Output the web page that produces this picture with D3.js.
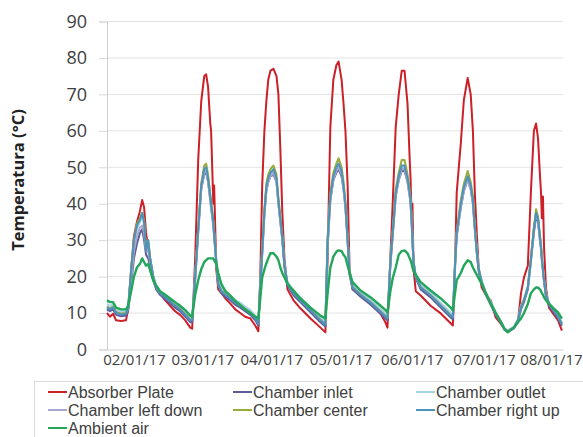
<!DOCTYPE html>
<html>
<head>
<meta charset="utf-8">
<script src="https://cdn.jsdelivr.net/npm/d3@7"></script>
<style>
body { margin: 0; background: #fff; }
text { font-family: "Open Sans", sans-serif; fill: #404040; }
</style>
</head>
<body>
<svg width="583" height="437"></svg>
<script>
// time since start of logging, hours
var hours = [0, 1.1, 2.2, 3.3, 5.1, 6.9, 7.7, 8.8, 9.8, 10.9, 12.0, 12.8, 13.5, 14.2, 15.0, 15.7, 16.8, 17.9, 19.3, 21.2, 23.0, 24.8, 26.6, 28.5, 30.3, 31.0,
  32.1, 33.2, 34.3, 35.4, 36.1, 36.8, 37.6, 37.9, 38.7, 39.0, 39.8, 40.5, 41.6, 43.1, 44.9, 46.7, 48.5, 50.3, 52.2, 54.0, 55.1,
  55.8, 56.5, 57.3, 58.0, 58.7, 59.5, 60.6, 61.7, 62.4, 63.1, 63.8, 64.6, 65.7, 67.9, 70.4, 74.1, 77.7, 79.5,
  80.3, 81.3, 82.4, 83.5, 84.3, 85.4, 86.1, 86.8, 87.6, 88.3, 89.4, 92.3, 96.0, 99.6, 101.4, 102.1,
  103.2, 104.0, 105.1, 106.2, 107.3, 108.3, 109.4, 110.2, 110.5, 110.9, 111.2, 111.6, 112.4, 114.2, 117.8, 121.5, 125.1, 125.9,
  126.6, 127.3, 128.8, 129.9, 131.3, 132.4, 133.2, 133.9, 134.6, 135.3, 136.4, 137.9, 139.7, 141.5, 143.4, 144.8, 145.9, 148.1, 149.6,
  150.7, 151.8, 153.2, 154.3, 155.4, 156.2, 156.9, 157.6, 158.0, 158.3, 158.7, 159.1, 159.8, 160.9, 162.3, 164.2, 165.6];

var absorberPlate = [10, 9, 9.8, 8, 7.8, 8, 11, 22, 31, 35, 38, 41, 39, 32, 28, 25, 20, 17, 15.4, 13.5, 12, 10.5, 9.5, 8, 6, 5.7,
  25, 52, 68, 75, 75.5, 72, 62, 60, 40, 45, 22, 16.5, 15.5, 14, 12.6, 11, 10, 9, 8.5, 6.5, 5,
  20, 45, 60, 68, 74, 76.5, 77, 75, 70, 55, 38, 25, 16.5, 13.5, 11.3, 8.5, 6, 4.7,
  25, 61, 74, 78, 79, 74, 67.5, 60, 45, 22, 16.5, 15, 12.5, 9.8, 7.4, 6,
  26, 40, 61, 70, 76.5, 76.5, 67.5, 52, 47, 36, 40, 22, 16, 14.8, 12, 9.9, 7.2, 6.6,
  20, 43, 56.6, 68.4, 74.5, 70, 60, 43, 32, 22.5, 17, 15, 13.5, 8.8, 7, 5.5, 5, 6, 7.5,
  15.4, 19.8, 23, 43, 60, 62, 58, 48, 43, 36, 42, 28, 17, 11.5, 10, 8, 5.2];

var chamberInlet = [11, 10.5, 11, 9.5, 9.1, 9.3, 10.5, 18, 25, 29, 32, 33, 30, 26, 25, 23, 19, 16.5, 15, 13.8, 12.7, 11.5, 10.5, 9, 7.5, 7.5,
  19, 32, 44, 48, 48.5, 46, 41, 39, 34, 31, 23.5, 17.5, 15.5, 14.5, 13.5, 12.3, 11.5, 10.5, 9.5, 8, 6.5,
  17, 26, 37, 43.5, 46, 47.5, 48, 46, 40, 35, 30, 22.5, 17.5, 14.9, 13, 10.2, 7.5, 6.3,
  28, 41, 46.5, 48.5, 49.5, 47.5, 44, 39, 29.5, 20.5, 16.5, 14.5, 12.3, 9.8, 8.5, 8,
  23.5, 31, 42, 46.5, 49, 49, 46, 42, 40, 35, 29.5, 23.5, 19.5, 16.5, 14.3, 11.5, 8.8, 8.3,
  21, 31, 39, 43.5, 46.5, 44, 40, 33, 26.5, 21.5, 18, 15, 12.2, 9.5, 7.2, 5.3, 4.8, 5.8, 7.6,
  11, 13, 16.5, 24, 32, 36.5, 35, 30, 27.5, 24.5, 21.5, 18.5, 14.5, 12, 10.5, 8.5, 6.5];

var chamberOutlet = [12.5, 12, 12.3, 10.8, 10.4, 10.6, 12, 21, 29, 33, 35, 36.5, 34, 28, 29, 25, 20.5, 17.5, 16, 14.8, 13.8, 12.7, 11.7, 10.2, 8.7, 8.6,
  20, 33, 44.5, 49, 49.5, 46.5, 41.5, 39.5, 35, 32, 24.5, 18.5, 16.8, 15.8, 14.8, 13.6, 12.8, 11.8, 10.8, 9.3, 7.8,
  18, 27, 37.5, 44, 46.5, 48, 49, 46.5, 40.5, 35.5, 31, 23.5, 18.6, 16.2, 14.3, 11.5, 8.8, 7.6,
  29.5, 41.5, 47, 49.5, 50.5, 48.5, 44.5, 39.5, 30.5, 21.5, 17.8, 15.8, 13.6, 11.1, 9.8, 9.3,
  24.5, 32, 42.5, 47, 50, 50, 46.5, 42.5, 40.5, 35.5, 30.5, 24.5, 20.5, 17.8, 15.6, 12.8, 10.1, 9.6,
  22, 32, 39.5, 44, 47, 44.5, 40.5, 33.5, 27.5, 22.5, 19, 15.8, 13.2, 10.3, 7.8, 5.8, 5.3, 6.3, 8.4,
  12, 14, 17.5, 25, 33.5, 37.5, 36, 31, 28.5, 25.5, 22.5, 19.5, 15.5, 13, 11.5, 9.5, 7.5];

var chamberLeftDown = [11.8, 11.3, 11.8, 10.3, 9.9, 10.1, 11, 19, 27, 31, 33.5, 34, 32, 27, 27, 24, 20, 17, 15.5, 14.4, 13.3, 12.2, 11.2, 9.7, 8.2, 8.1,
  19.5, 32.5, 44, 48.5, 49, 46, 41, 39, 34.5, 31.5, 24, 18, 16.2, 15.2, 14.2, 13, 12.2, 11.2, 10.2, 8.7, 7.2,
  17.5, 26.5, 37, 43.5, 46, 47.5, 48.5, 46, 40, 35, 30.5, 23, 18.2, 15.6, 13.7, 10.9, 8.2, 7,
  29, 41, 46.5, 49, 50, 48, 44, 39, 30, 21, 17.2, 15.2, 13, 10.5, 9.2, 8.7,
  24, 31.5, 42, 46.5, 49.5, 49.5, 46, 42, 40, 35, 30, 24, 20, 17.2, 15, 12.2, 9.5, 9,
  21.5, 31.5, 39, 43.5, 46.5, 44, 40, 33, 27, 22, 18.6, 15.5, 12.8, 10, 7.6, 5.6, 5.1, 6.1, 8.1,
  11.6, 13.6, 17, 24.5, 33, 37, 35.5, 30.5, 28, 25, 22, 19, 15, 12.6, 11.1, 9.1, 7.1];

var chamberCenter = [11.7, 11.2, 11.7, 10.2, 9.8, 10, 11.5, 22, 30, 34.5, 36, 37.5, 35.5, 27.5, 30, 25, 20, 17, 15.5, 14.4, 13.3, 12.1, 11.1, 9.6, 8.1, 8.1,
  20.5, 33.5, 45.5, 50.5, 51, 48, 42.5, 40.5, 35.5, 32.5, 24, 18, 16.1, 15.1, 14.1, 12.9, 12.1, 11.1, 10.1, 8.6, 7.1,
  18.5, 28, 38.5, 45.5, 48, 49.5, 50.5, 48, 41.5, 36.5, 31.5, 23, 18.1, 15.5, 13.6, 10.8, 8.1, 6.9,
  30.5, 43, 48.5, 51, 52.5, 50, 46, 40.5, 30.5, 21, 17.1, 15.1, 12.9, 10.4, 9.1, 8.6,
  25, 32.5, 44, 48.5, 52, 52, 48, 44, 41.5, 36.5, 30.5, 24, 20, 17.1, 14.9, 12.1, 9.4, 8.9,
  22.5, 32.5, 41, 45.5, 49, 46, 42, 34, 27.5, 22, 18.5, 15.4, 12.7, 10, 7.5, 5.5, 5, 6, 8,
  11.6, 13.6, 17.2, 25, 33.5, 38.5, 36.5, 31.5, 28.5, 25.5, 22, 19, 15, 12.5, 11, 9, 7];

var chamberRightUp = [11.5, 11, 11.5, 10, 9.6, 9.8, 11.5, 22, 30, 34, 35.5, 37.5, 35, 27, 30, 25, 20, 17, 15.5, 14.3, 13.2, 12, 11, 9.5, 8, 8,
  20, 33, 45, 49.5, 50, 47, 42, 40, 35, 32, 24, 18, 16, 15, 14, 12.8, 12, 11, 10, 8.5, 7,
  18, 27, 38, 44.5, 47, 48.5, 49.5, 47, 41, 36, 31, 23, 18, 15.4, 13.5, 10.7, 8, 6.8,
  30, 42, 47.5, 50, 51, 49, 45, 40, 30, 21, 17, 15, 12.8, 10.3, 9, 8.5,
  24.5, 32, 43, 47.5, 50.5, 50.5, 47, 43, 41, 36, 30, 24, 20, 17, 14.8, 12, 9.3, 8.8,
  22, 32, 40, 44.5, 47.5, 45, 41, 33.5, 27, 22, 18.5, 15.4, 12.6, 9.9, 7.5, 5.5, 5, 6, 8,
  11.5, 13.5, 17, 24.5, 33, 37.5, 36, 31, 28, 25, 22, 19, 15, 12.5, 11, 9, 7];

var ambientAir = [13.5, 13, 13, 11.5, 11, 11, 12, 16, 20, 22.5, 23.5, 25, 24, 23, 23.5, 21.7, 19, 17.6, 16, 15, 14, 13, 12, 10.8, 9.3, 9,
  15, 19, 22, 24, 24.5, 25, 25, 25, 25, 24.5, 23.5, 21, 18, 16, 14.8, 13.3, 12.2, 11, 10, 9, 8.5,
  14, 19.8, 22, 23.6, 25, 26.4, 26.4, 25.5, 24.5, 22.5, 21, 19.8, 18, 16.2, 14, 11.5, 9.3, 8.5,
  15.4, 22.5, 25.5, 26.8, 27.2, 27, 26, 25.3, 23, 21, 18.5, 16.2, 14.3, 12, 10.8, 10.2,
  16.2, 19.5, 22.5, 26, 27, 27.2, 26.4, 25, 24.5, 23.5, 22.5, 21.5, 20.5, 18.5, 16.2, 14, 11.5, 10.7,
  15, 19, 21, 23, 24.5, 24, 22.5, 21.5, 20.5, 19.5, 18, 15.4, 12.6, 10, 7.5, 5.5, 4.7, 6, 7.5,
  8.5, 10, 12.5, 15.4, 16.5, 17, 17, 16.5, 16, 15.5, 15, 14.3, 13.5, 12.5, 11.5, 10.2, 8.5];

var seriesNames = ["Absorber Plate", "Chamber inlet", "Chamber outlet", "Chamber left down", "Chamber center", "Chamber right up", "Ambient air"];
var seriesColors = ["#cc1f27", "#5f5c9e", "#a6d3e4", "#a9a7cc", "#9aab3c", "#4b93bd", "#22a65a"];
var seriesValues = [absorberPlate, chamberInlet, chamberOutlet, chamberLeftDown, chamberCenter, chamberRightUp, ambientAir];

var tickHours = [9.8, 34.7, 59.8, 85.0, 110.9, 137.2, 161.6];
var tickLabels = ["02/01/17", "03/01/17", "04/01/17", "05/01/17", "06/01/17", "07/01/17", "08/01/17"];
var yTicks = [0, 10, 20, 30, 40, 50, 60, 70, 80, 90];

var svg = d3.select("svg");

var x = d3.scaleLinear().domain([0, 166]).range([107, 563]);
var y = d3.scaleLinear().domain([0, 90]).range([349.5, 21.5]);

// gridlines
svg.append("g")
    .selectAll("line")
    .data(yTicks.slice(1))
    .enter().append("line")
    .attr("x1", 107).attr("x2", 563)
    .attr("y1", function (d) { return y(d); })
    .attr("y2", function (d) { return y(d); })
    .attr("stroke", "#e3e3e3")
    .attr("stroke-width", 1);

// y axis
var yAxis = svg.append("g")
    .attr("transform", "translate(107,0)")
    .call(d3.axisLeft(y).tickValues(yTicks).tickSize(8).tickPadding(12).tickFormat(d3.format("d")));
yAxis.select(".domain").attr("stroke", "#d0d0d0");
yAxis.selectAll(".tick line").attr("stroke", "#d9d9d9");
yAxis.selectAll(".tick text").attr("font-size", 18).style("fill", "#404040");

// x axis
var xAxis = svg.append("g")
    .attr("transform", "translate(0,349.5)")
    .call(d3.axisBottom(x).tickValues(tickHours).tickSize(0).tickPadding(5)
        .tickFormat(function (d, i) { return tickLabels[i]; }));
xAxis.select(".domain").attr("stroke", "#d0d0d0");
xAxis.selectAll(".tick text").attr("font-size", 15).style("fill", "#404040");

// y title
svg.append("text")
    .attr("transform", "translate(23.5,180) rotate(-90)")
    .attr("text-anchor", "middle")
    .attr("font-size", 16.5)
    .attr("font-weight", "bold")
    .style("fill", "#222")
    .text("Temperatura (°C)");

// lines
var line = d3.line()
    .x(function (d, i) { return x(hours[i]); })
    .y(function (d) { return y(d); });

svg.append("g")
    .selectAll("path")
    .data(seriesValues)
    .enter().append("path")
    .attr("d", function (d) { return line(d); })
    .attr("fill", "none")
    .attr("stroke", function (d, i) { return seriesColors[i]; })
    .attr("stroke-width", function (d, i) { return i == 6 ? 2.4 : 2; })
    .attr("stroke-linejoin", "round");

// legend
var legend = svg.append("g");
legend.append("rect")
    .attr("x", 34.5).attr("y", 381.5)
    .attr("width", 560).attr("height", 70)
    .attr("fill", "none")
    .attr("stroke", "#dcdcdc");

var colX = [48, 233, 416];
var rowY = [392, 410, 428];

seriesNames.forEach(function (name, i) {
    var row = legend.append("g")
        .attr("transform", "translate(" + colX[i % 3] + "," + rowY[Math.floor(i / 3)] + ")");
    row.append("line")
        .attr("x1", 0).attr("x2", 19)
        .attr("stroke", seriesColors[i])
        .attr("stroke-width", 2);
    row.append("text")
        .attr("x", 20)
        .attr("y", 5.5)
        .attr("font-size", 16)
        .style("font-family", "'Liberation Sans', Arial, sans-serif")
        .text(name);
});
</script>
</body>
</html>
